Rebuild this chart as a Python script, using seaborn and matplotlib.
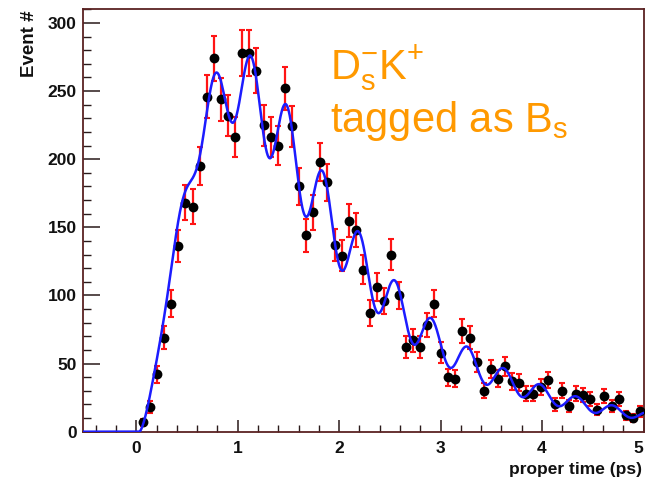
import numpy as np
import pandas as pd
import matplotlib
matplotlib.use("Agg")
import matplotlib.pyplot as plt
from matplotlib.ticker import MultipleLocator
import seaborn as sns

# Histogram binning of the proper-time distribution (ps)
bin_start = -0.6
bin_width = 0.07
first_filled_bin = 9

# Entries per bin, starting at the first filled bin
events = [7, 18, 42, 69, 94, 136, 168, 165, 195, 246,
          274, 244, 232, 216, 278, 278, 265, 225, 216, 210,
          252, 224, 180, 144, 161, 198, 183, 137, 129, 155,
          148, 119, 87, 106, 96, 130, 100, 62, 67, 62,
          78, 94, 58, 40, 39, 74, 69, 51, 30, 46,
          39, 48, 37, 36, 28, 28, 33, 38, 20, 30,
          19, 28, 27, 24, 16, 26, 19, 24, 12, 10, 15]

# Fitted decay model: acceptance x exponential decay x oscillation
fit_norm = 781.0
fit_tau = 1.2
fit_dm = 17.6
fit_t_peak = 0.77
fit_amp_max = 0.26
fit_amp_rise = 1.9
acc_t0 = 0.03
acc_scale = 0.80
acc_power = 1.6

x_ticks = [0, 1, 2, 3, 4, 5]
y_ticks = [0, 50, 100, 150, 200, 250, 300]
x_label = "proper time (ps)"
y_label = "Event #"
line1 = r"$\mathregular{D_s^{-}K^{+}}$"
line2 = r"tagged as B$\mathregular{_s}$"

sns.set_theme(style="ticks")
plt.rcParams["font.family"] = ["Liberation Sans", "DejaVu Sans"]
plt.rcParams["mathtext.fontset"] = "custom"
plt.rcParams["mathtext.rm"] = "Liberation Sans"
plt.rcParams["mathtext.it"] = "Liberation Sans:italic"
plt.rcParams["mathtext.bf"] = "Liberation Sans:bold"

counts = np.array(events, dtype=float)
centers = bin_start + bin_width * (first_filled_bin + 0.5 + np.arange(len(counts)))
errors = np.sqrt(counts)
data = pd.DataFrame({"t": centers, "n": counts})


def fit_model(t):
    dt = np.clip(t - acc_t0, 0, None)
    acc = 1 - np.exp(-(dt / acc_scale) ** acc_power)
    amp = fit_amp_max * (1 - np.exp(-np.clip(t, 0, None) / fit_amp_rise))
    return fit_norm * acc * np.exp(-t / fit_tau) * (1 + amp * np.cos(fit_dm * (t - fit_t_peak)))


t_grid = np.linspace(-0.53, 5.0, 2500)
curve = pd.DataFrame({"t": t_grid, "f": fit_model(t_grid)})

W, H = 646, 478
fig = plt.figure(figsize=(W / 100, H / 100), dpi=100)
fig.patch.set_facecolor("white")
ax = fig.add_axes([82.5 / W, (H - 431.7) / H, (643.5 - 82.5) / W, (431.7 - 9.3) / H])
ax.set_facecolor("white")

ax.errorbar(centers, counts, yerr=errors, fmt="none", ecolor="#ff1414",
            elinewidth=1.6, capsize=2.2, capthick=1.5, zorder=2)
sns.scatterplot(data=data, x="t", y="n", ax=ax, color="black", s=50,
                edgecolor="black", linewidth=0, zorder=3)
sns.lineplot(data=curve, x="t", y="f", ax=ax, color="#1c1cff", linewidth=1.8,
             estimator=None, sort=False, zorder=4)

ax.set_xlim(-0.53, 5.0)
ax.set_ylim(0, 310)
ax.set_xticks(x_ticks)
ax.set_yticks(y_ticks)
ax.xaxis.set_minor_locator(MultipleLocator(0.2))
ax.yaxis.set_minor_locator(MultipleLocator(10))
ax.set_xlabel("")
ax.set_ylabel("")

frame_color = "#5a2222"
for side in ["left", "right", "top", "bottom"]:
    ax.spines[side].set_visible(True)
    ax.spines[side].set_color(frame_color)
    ax.spines[side].set_linewidth(1.3)

ax.tick_params(axis="x", which="major", direction="in", length=8.4, width=1.1,
               color="#2a1a1a", pad=6.5, top=False)
ax.tick_params(axis="x", which="minor", direction="in", length=4.8, width=1.0,
               color="#2a1a1a", top=False)
ax.tick_params(axis="y", which="major", direction="in", length=12, width=1.1,
               color="#2a1a1a", pad=4.3, right=False)
ax.tick_params(axis="y", which="minor", direction="in", length=6, width=1.0,
               color="#2a1a1a", right=False)
for lab in ax.get_xticklabels() + ax.get_yticklabels():
    lab.set_fontweight("bold")
    lab.set_fontsize(12.5)
    lab.set_color("#111111")
# keep the last x tick label inside the figure edge
ax.get_xticklabels()[-1].set_horizontalalignment("right")

fig.text(642 / W, (H - 474) / H, x_label, ha="right", va="baseline",
         fontsize=12.5, fontweight="bold", color="#111111")
fig.text(30 / W, (H - 10) / H, y_label, ha="center", va="top", rotation=90,
         fontsize=13.5, fontweight="bold", color="#111111")

orange = "#ff9900"
fig.text(330 / W, (H - 80) / H, line1, ha="left", va="baseline",
         fontsize=30, color=orange)
fig.text(330 / W, (H - 131.7) / H, line2, ha="left", va="baseline",
         fontsize=30, color=orange)

fig.savefig("out.png", dpi=100, facecolor="white")
